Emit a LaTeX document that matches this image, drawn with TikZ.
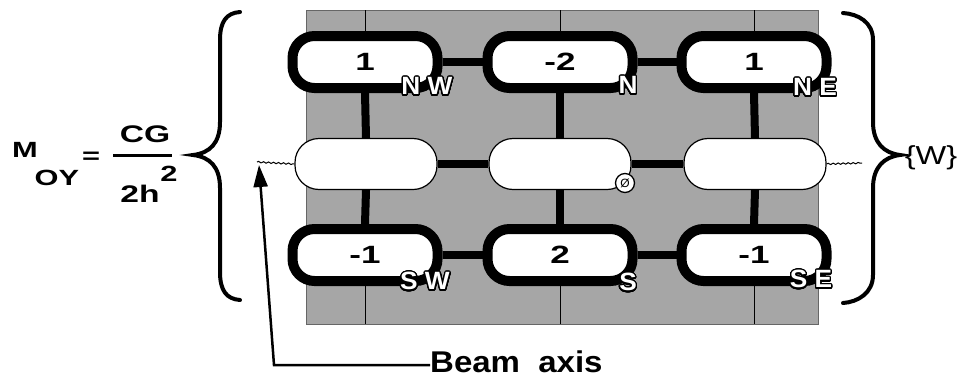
\documentclass[tikz,border=0pt]{standalone}
\usepackage{fontspec}
\setmainfont{Liberation Sans}
\newfontfamily\formsans[FakeStretch=1.4]{Liberation Sans}
\newfontfamily\tagsans[FakeStretch=1.05]{Liberation Sans}
\newfontfamily\setsans[FakeStretch=1.25]{Liberation Sans}
\newfontfamily\notesans[FakeStretch=1.1]{Liberation Sans}
\usepackage[copies]{contour}
\contourlength{1.3pt}
\contournumber{32}
\usetikzlibrary{arrows.meta,decorations.pathmorphing,calc}

\tikzset{
  cell/.style={draw, line width=10pt, rounded corners=22pt, fill=white,
    minimum width=145pt, minimum height=52pt, inner sep=0pt,
    font=\formsans\bfseries\fontsize{25}{25}\selectfont},
  hole/.style={draw, line width=1.2pt, rounded corners=24pt, fill=white,
    minimum width=142pt, minimum height=51pt, inner sep=0pt},
  link/.style={line width=8pt},
  guide/.style={line width=0.8pt},
  tag/.style={inner sep=0pt, text=white,
    font=\tagsans\bfseries\fontsize{25}{25}\selectfont},
  axisline/.style={line width=1pt, decorate,
    decoration={snake, amplitude=0.7pt, segment length=5pt}},
  curly/.style={line width=4pt, line cap=round},
  formula/.style={inner sep=0pt, font=\formsans\bfseries\fontsize{22}{22}\selectfont},
  pointer/.style={line width=2.5pt, -{Triangle[length=22pt,width=14pt]}},
  screen/.style={fill=black!35, draw=black!60, line width=0.8pt},
}

\begin{document}
\begin{tikzpicture}[x=1pt,y=-1pt]
\useasboundingbox (0,0) rectangle (964,378);

% stippled plate
\fill[screen] (306,10) rectangle (818,324);
\coordinate (platetop) at (0,10);
\coordinate (platebot) at (0,324);

% stencil cells
\node[cell] (nw) at (365,62) {1};
\node[cell] (n)  at (560,62) {-2};
\node[cell] (ne) at (754,62) {1};
\node[cell] (sw) at (365,255) {-1};
\node[cell] (s)  at (560,255) {2};
\node[cell] (se) at (754,255) {-1};

% beam row
\node[hole] (o1) at (366,164) {};
\node[hole] (o2) at (560,164) {};
\node[hole] (o3) at (755,164) {};

% thin column lines through the plate
\draw[guide] (nw.north |- platetop) -- (nw.north);
\draw[guide] (n.north |- platetop) -- (n.north);
\draw[guide] (ne.north |- platetop) -- (ne.north);
\draw[guide] (sw.south) -- (sw.south |- platebot);
\draw[guide] (s.south) -- (s.south |- platebot);
\draw[guide] (se.south) -- (se.south |- platebot);

% thick links
\draw[link] (nw.east) -- (n.west);
\draw[link] (n.east) -- (ne.west);
\draw[link] (sw.east) -- (s.west);
\draw[link] (s.east) -- (se.west);
\draw[link] (o1.east) -- (o2.west);
\draw[link] (o2.east) -- (o3.west);
\draw[link] (nw.south) -- (o1.north);
\draw[link] (n.south) -- (o2.north);
\draw[link] (ne.south) -- (o3.north);
\draw[link] (o1.south) -- (sw.north);
\draw[link] (o2.south) -- (s.north);
\draw[link] (o3.south) -- (se.north);

% compass tags
\node[tag] (tnw) at (427,87) {\contour{black}{N W}};
\node[tag] (tn)  at (628,86) {\contour{black}{N}};
\node[tag] (tne) at (815,88) {\contour{black}{N E}};
\node[tag] (tsw) at (425,282) {\contour{black}{S W}};
\node[tag] (ts)  at (628,283) {\contour{black}{S}};
\node[tag] (tse) at (811,280) {\contour{black}{S E}};

% origin mark
\node[circle, draw, line width=1.3pt, fill=white, minimum size=19pt, inner sep=0pt,
  font=\fontsize{12}{12}\selectfont] (origin) at (625,183) {Ø};

% beam axis
\coordinate (axl) at (257,162);
\coordinate (axr) at (862,163);
\draw[axisline] (axl) -- (o1.west);
\draw[axisline] (o3.east) -- (axr);

% braces
\draw[curly] (240,12) .. controls (226,13) and (220,22) .. (220,40) -- (220,122)
  .. controls (220,143) and (210,153) .. (193,155)
  .. controls (210,157) and (220,167) .. (220,188) -- (220,272)
  .. controls (220,290) and (226,299) .. (240,300);
\draw[curly] (843,13) .. controls (858,14) and (873,22) .. (873,40) -- (873,122)
  .. controls (873,143) and (884,153) .. (900,155)
  .. controls (884,157) and (873,167) .. (873,188) -- (873,275)
  .. controls (873,293) and (858,302) .. (843,303);

% formula
\node[formula] (m) at (25,150) {M};
\node[formula] (oy) at (57,178) {OY};
\node[formula] (eq) at (91,158) {=};
\node[formula, font=\formsans\bfseries\fontsize{24}{24}\selectfont] (cg) at (145,134) {CG};
\node[formula, font=\formsans\bfseries\fontsize{24}{24}\selectfont] (den) at (140,194) {2h};
\node[formula] (sq) at (169,174) {2};
\draw[line width=3pt] (113,155) -- (172,155);
\node[inner sep=0pt, font=\setsans\fontsize{26}{26}\selectfont] (w) at (931,158) {\{W\}};

% pointer to the beam axis
\node[inner sep=0pt, anchor=west, font=\notesans\bfseries\fontsize{30}{30}\selectfont] (beam) at (430,362) {Beam\ \ axis};
\coordinate (bend) at (274,365);
\coordinate (tip) at (259,165);
\draw[pointer] (beam.west |- bend) -- (bend) -- (tip);
\end{tikzpicture}
\end{document}
